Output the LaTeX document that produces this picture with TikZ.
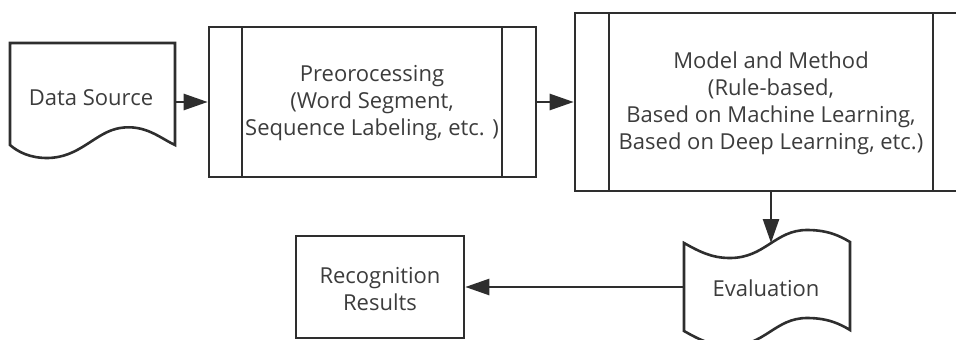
\documentclass[tikz,border=0pt]{standalone}
\usepackage{fontspec}
\setmainfont{Open Sans}
\usetikzlibrary{arrows.meta}
\definecolor{edge}{HTML}{2E2E2E}
\definecolor{ink}{HTML}{3C3C3C}
\tikzset{
  shapeline/.style={draw=edge, line width=2.6pt, line join=miter},
  label/.style={text=ink, align=center, inner sep=0pt,
    font=\fontsize{22}{27}\selectfont},
  box/.style={shapeline, rectangle, inner sep=0pt},
  ghost/.style={rectangle, inner sep=0pt},
  arr/.style={draw=edge, line width=2.6pt,
    -{Triangle[length=24pt,width=16pt]}},
}
\begin{document}
\begin{tikzpicture}[x=1pt,y=-1pt]
\useasboundingbox (0,0) rectangle (956,340);
\clip (0,0) rectangle (956,340);

% Data source: document shape with a wavy lower edge
\path[shapeline] (10,43) -- (175,43) -- (175,145)
  .. controls (160,138) and (145,124) .. (120,128)
  .. controls (95,132) and (80,158) .. (47,158)
  .. controls (30,158) and (18,152) .. (10,145) -- cycle;
\node[ghost, minimum width=165pt, minimum height=102pt] (ds) at (92.5,94) {};
\node[label] (dstext) at (91,98) {Data Source};

% Preprocessing: predefined process box
\node[box, minimum width=327pt, minimum height=150pt] (pre) at (372.5,102) {};
\draw[shapeline] (242,27) -- (242,177) (502,27) -- (502,177);
\node[label] (pretext) at (372,103) {Preorocessing\\(Word Segment,\\Sequence Labeling, etc. )};

% Model and method: predefined process box running off the right edge
\node[box, minimum width=392pt, minimum height=178pt] (model) at (771,102) {};
\draw[shapeline] (609,13) -- (609,191) (933,13) -- (933,191);
\node[label] (modeltext) at (771,103) {Model and Method\\(Rule-based,\\Based on Machine Learning,\\Based on Deep Learning, etc.)};

% Evaluation: tape shape with wavy top and bottom
\path[shapeline] (684,243)
  .. controls (700,252) and (712,258) .. (730,258)
  .. controls (765,258) and (775,230) .. (807,230)
  .. controls (828,230) and (840,236) .. (850,242)
  -- (850,330)
  .. controls (840,324) and (828,318) .. (807,318)
  .. controls (775,318) and (765,346) .. (730,346)
  .. controls (712,346) and (700,340) .. (684,331) -- cycle;
\node[ghost, minimum width=166pt, minimum height=90pt] (eval) at (767,288) {};
\node[label] (evaltext) at (766,288) {Evaluation};
\coordinate (evaltop) at (771,243);

% Recognition results
\node[box, minimum width=168pt, minimum height=102pt] (rec) at (380,287) {};
\node[label] (rectext) at (380,289) {Recognition\\Results};

% Connectors
\draw[arr] (ds.east |- pre.west) -- (pre.west);
\draw[arr] (pre.east) -- (model.west);
\draw[arr] (model.south) -- (evaltop);
\draw[arr] (eval.west |- rec.east) -- (rec.east);
\end{tikzpicture}
\end{document}
